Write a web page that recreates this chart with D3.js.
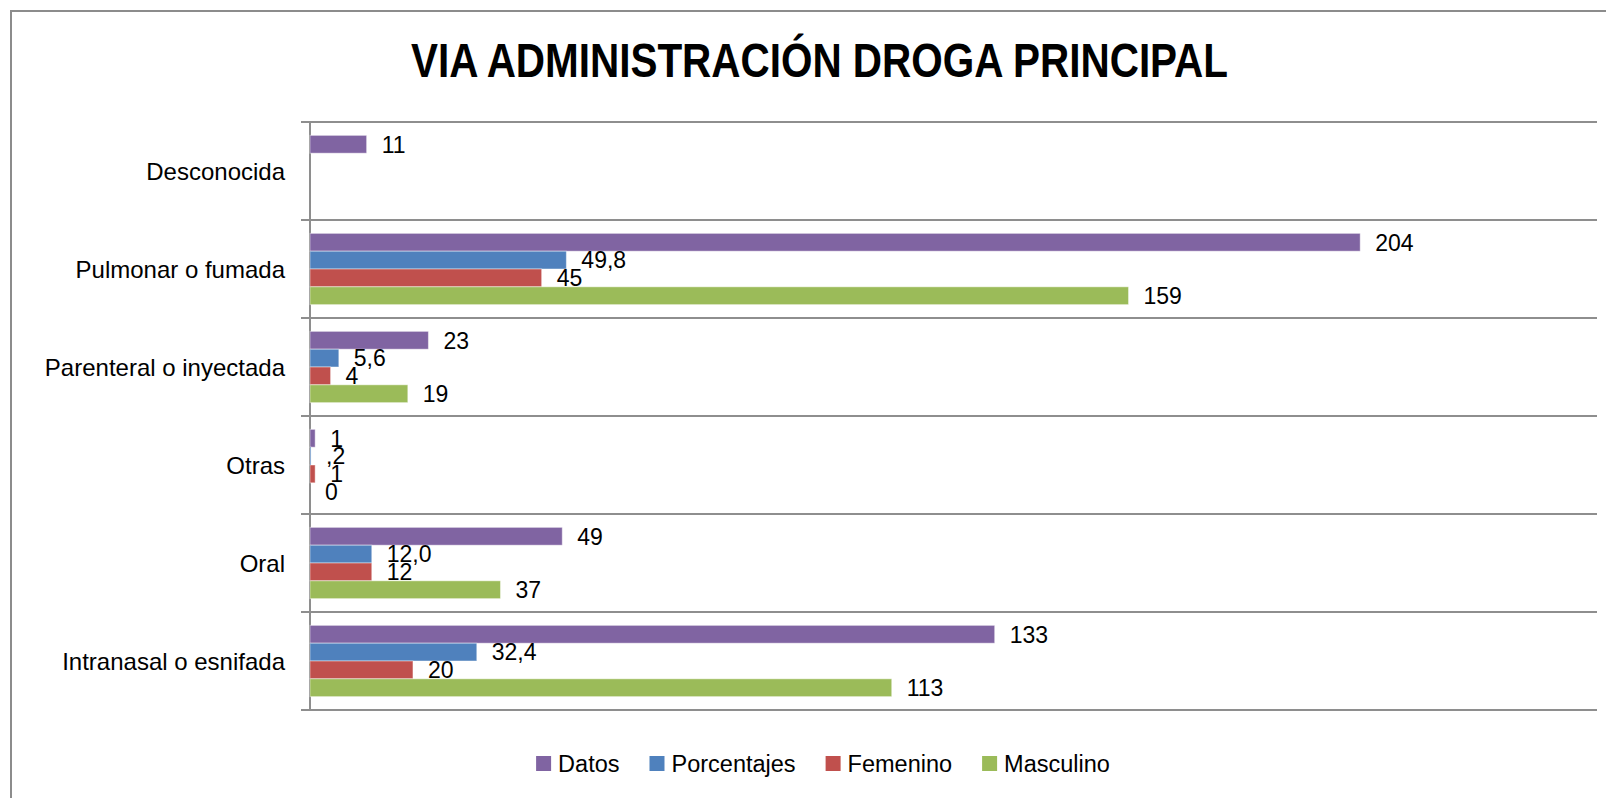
<!DOCTYPE html>
<html>
<head>
<meta charset="utf-8">
<script src="https://cdn.jsdelivr.net/npm/d3@7"></script>
<style>
  html, body { margin: 0; padding: 0; background: #fff; }
  svg { display: block; font-family: "Liberation Sans", Arial, sans-serif; }
</style>
</head>
<body>
<svg class="chart"></svg>
<script>
/*
 * Via administración droga principal: grouped horizontal bars, one group per route.
 */

// Categories, top to bottom.
var categories = ["Desconocida", "Pulmonar o fumada", "Parenteral o inyectada", "Otras", "Oral", "Intranasal o esnifada"];

// Series names and colours, in the order the bars stack inside a group.
var seriesNames = ["Datos", "Porcentajes", "Femenino", "Masculino"];
var seriesColors = ["#8064a2", "#4f81bd", "#c0504d", "#9bbb59"];

// Values per series, one per category (null = no bar).
var datos       = [11, 204, 23, 1, 49, 133];
var porcentajes = [null, 49.8, 5.6, 0.2, 12.0, 32.4];
var femenino    = [null, 45, 4, 1, 12, 20];
var masculino   = [null, 159, 19, 0, 37, 113];

// Value axis extent (hidden).
var xDomain = [0, 250];

var title = "VIA ADMINISTRACIÓN DROGA PRINCIPAL";

function Chart() {}

Chart.width = 1606;
Chart.height = 798;

/**
 * Formats a data label the way the spreadsheet did: percentages keep one decimal,
 * with a comma and no leading zero.
 */
Chart.label = function(series, v) {
    if (series === "Porcentajes") {
        var s = d3.format(".1f")(v).replace(".", ",");
        return s.indexOf("0,") === 0 ? s.slice(1) : s;
    }
    return String(v);
};

Chart.render = function() {
    var svg = d3.select(".chart")
        .attr("width", Chart.width)
        .attr("height", Chart.height);

    var values = [datos, porcentajes, femenino, masculino];

    // Outer chart border (runs off the right and bottom of the picture).
    svg.append("rect")
        .attr("x", 11).attr("y", 11)
        .attr("width", 1700).attr("height", 900)
        .attr("fill", "none")
        .attr("stroke", "#8c8c8c")
        .attr("stroke-width", 2);

    svg.append("text")
        .attr("x", 411)
        .attr("y", 77)
        .attr("textLength", 817)
        .attr("lengthAdjust", "spacingAndGlyphs")
        .style("font-family", "'Liberation Sans Narrow', 'Liberation Sans', Arial, sans-serif")
        .style("font-weight", "bold")
        .style("font-size", "48px")
        .attr("fill", "#000")
        .text(title);

    var x = d3.scaleLinear().domain(xDomain).range([310, 1597]);
    var y = d3.scaleBand().domain(categories).range([122, 710]).paddingInner(0).paddingOuter(0);
    var inner = d3.scaleBand().domain(seriesNames).range([0, y.bandwidth()])
        .paddingInner(0).paddingOuter(0.75);

    // Horizontal gridlines between categories, with the small tick left of the axis.
    var bounds = categories.map(function(c) { return y(c); }).concat([y.range()[1]]);
    svg.append("g").selectAll("line")
        .data(bounds)
        .enter().append("line")
        .attr("x1", x(0) - 9).attr("x2", x.range()[1])
        .attr("y1", function(d) { return d; })
        .attr("y2", function(d) { return d; })
        .attr("stroke", "#8e8e8e")
        .attr("stroke-width", 2);

    // Category axis line.
    svg.append("line")
        .attr("x1", x(0)).attr("x2", x(0))
        .attr("y1", y.range()[0]).attr("y2", y.range()[1] + 1)
        .attr("stroke", "#8e8e8e")
        .attr("stroke-width", 2);

    // Category labels.
    svg.append("g").selectAll("text")
        .data(categories)
        .enter().append("text")
        .attr("x", 285)
        .attr("y", function(d) { return y(d) + y.bandwidth() / 2; })
        .attr("dy", "0.36em")
        .attr("text-anchor", "end")
        .style("font-size", "24px")
        .attr("fill", "#000")
        .text(function(d) { return d; });

    // Flatten into bar records.
    var bars = [];
    categories.forEach(function(c, i) {
        seriesNames.forEach(function(s, j) {
            var v = values[j][i];
            if (v !== null) bars.push({cat: c, series: s, color: seriesColors[j], value: v});
        });
    });

    svg.append("g").selectAll("rect")
        .data(bars)
        .enter().append("rect")
        .attr("x", x(0))
        .attr("y", function(d) { return y(d.cat) + inner(d.series); })
        .attr("width", function(d) { return x(d.value) - x(0); })
        .attr("height", inner.bandwidth())
        .attr("fill", function(d) { return d.color; })
        .attr("stroke", "rgba(255,255,255,0.45)")
        .attr("stroke-width", 1);

    svg.append("g").selectAll("text")
        .data(bars)
        .enter().append("text")
        .attr("x", function(d) { return x(d.value) + 15; })
        .attr("y", function(d) { return y(d.cat) + inner(d.series) + inner.bandwidth() / 2; })
        .attr("dy", "0.36em")
        .style("font-size", "23px")
        .attr("fill", "#000")
        .text(function(d) { return Chart.label(d.series, d.value); });

    // Legend, centred under the plot.
    var legend = svg.append("g");
    var items = legend.selectAll("g")
        .data(seriesNames)
        .enter().append("g");
    items.append("rect")
        .attr("width", 15).attr("height", 15)
        .attr("y", 756)
        .attr("fill", function(d, i) { return seriesColors[i]; });
    items.append("text")
        .attr("x", 22)
        .attr("y", 763.5)
        .attr("dy", "0.36em")
        .style("font-size", "23.5px")
        .attr("fill", "#000")
        .text(function(d) { return d; });

    var offset = 0, widths = [];
    items.each(function() {
        var w = 22 + this.querySelector("text").getComputedTextLength();
        widths.push(offset);
        offset += w + 30;
    });
    var total = offset - 30;
    var start = 823 - total / 2;
    items.attr("transform", function(d, i) { return "translate(" + (start + widths[i]) + ",0)"; });
};

Chart.render();
</script>
</body>
</html>
